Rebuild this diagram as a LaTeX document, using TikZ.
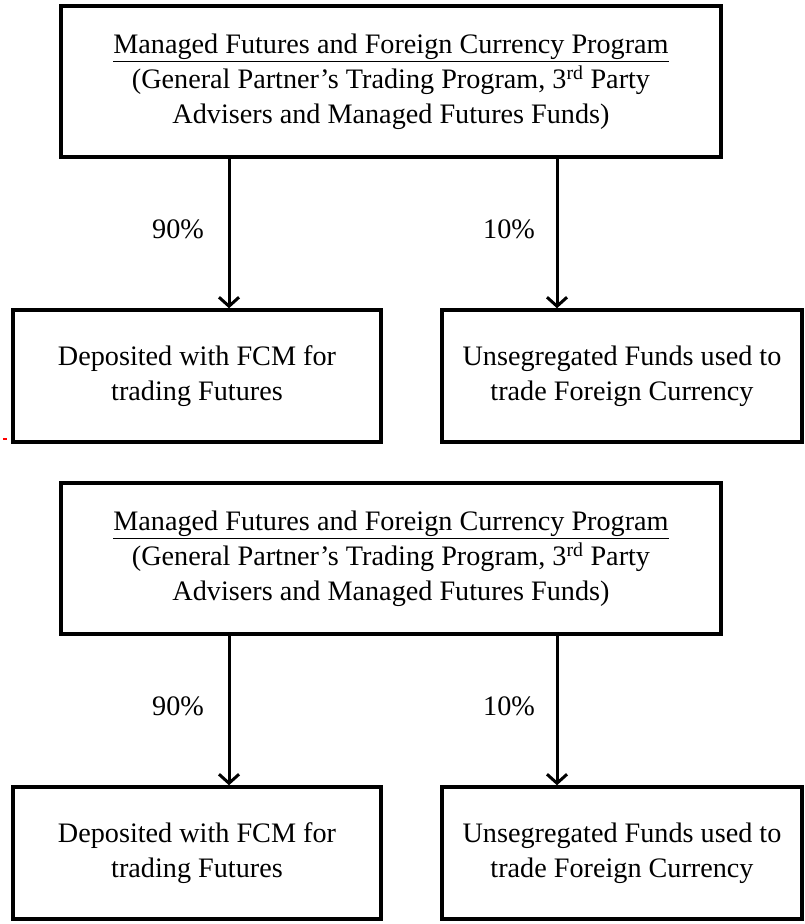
\documentclass[tikz,border=0pt]{standalone}
\usepackage{fontspec}
\setmainfont{Liberation Serif}
\usetikzlibrary{arrows.meta}
\begin{document}
\begin{tikzpicture}[x=1pt,y=-1pt,
  box/.style={draw=black,line width=3.5pt,fill=white,align=center,inner sep=0pt,
    font=\fontsize{28.2}{35}\selectfont},
  arr/.style={line width=3pt,-{Straight Barb[length=9pt,width=20pt,line width=3pt]}},
  pct/.style={font=\fontsize{28.2}{35}\selectfont,inner sep=0pt}]
\useasboundingbox (0,0) rectangle (804,924);
\foreach \dy/\s in {0/a,477/b}{
  \node[box,minimum width=660pt,minimum height=151pt] (top\s) at (391,81.5+\dy)
    {\underline{Managed Futures and Foreign Currency Program}\\
     (General Partner’s Trading Program, 3\textsuperscript{rd} Party\\
     Advisers and Managed Futures Funds)};
  \node[box,minimum width=368pt,minimum height=132pt] (left\s) at (197,376+\dy)
    {Deposited with FCM for\\trading Futures};
  \node[box,minimum width=360pt,minimum height=132pt] (right\s) at (622,376+\dy)
    {Unsegregated Funds used to\\trade Foreign Currency};
  \coordinate (xl\s) at (229,0);
  \coordinate (xr\s) at (557,0);
  \draw[arr] (top\s.south -| xl\s) -- (left\s.north -| xl\s);
  \draw[arr] (top\s.south -| xr\s) -- (right\s.north -| xr\s);
  \node[pct] (pl\s) at (178,229+\dy) {90\%};
  \node[pct] (pr\s) at (509,229+\dy) {10\%};
}
\coordinate (m1) at (3,439);
\coordinate (m2) at (7,439);
\draw[red,line width=1.2pt] (m1) -- (m2);
\end{tikzpicture}
\end{document}
